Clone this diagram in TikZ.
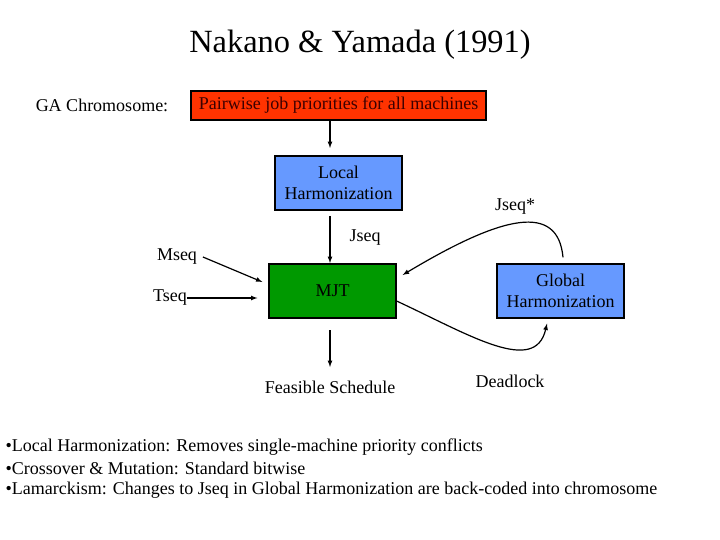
\documentclass[tikz,border=0pt]{standalone}
\usepackage{fontspec}
\setmainfont{Liberation Serif}
\usetikzlibrary{arrows}

\begin{document}
\begin{tikzpicture}[x=1pt,y=-1pt,>=latex,line width=1.2pt]

        \useasboundingbox (0,0) rectangle (720,540);

        \node (title) at (360,45) {\fontsize{32.4}{36}\selectfont Nakano \& Yamada (1991)};
        \node (ga)    at (102,105) {\fontsize{18}{21}\selectfont GA Chromosome:};

        \begin{scope}[every node/.style={draw, inner sep=0pt, align=center,
            font=\fontsize{18}{21}\selectfont}]
          \node[fill={rgb,255:red,255;green,51;blue,0}, text={rgb,255:red,60;green,0;blue,0}, minimum width=295, minimum height=29] (chrom) at (338.5,105.5) {Pairwise job priorities for all machines};
          \node[fill={rgb,255:red,102;green,153;blue,255}, minimum width=127, minimum height=54] (lh) at (338.5,183) {Local\\Harmonization};
          \node[fill={rgb,255:red,0;green,153;blue,0}, minimum width=127, minimum height=54] (mjt) at (332.5,291) {MJT};
          \node[fill={rgb,255:red,102;green,153;blue,255}, minimum width=127, minimum height=54] (gh) at (560.5,291) {Global\\Harmonization};
        \end{scope}

        \begin{scope}[every node/.style={font=\fontsize{18}{21}\selectfont}]
          \node (jseq)     at (365,238) {Jseq};
          \node (jseqstar) at (515,207) {Jseq*};
          \node (mseq)     at (177,257) {Mseq};
          \node (tseq)     at (170,298) {Tseq};
          \node (feas)     at (330,387) {Feasible Schedule};
          \node (dead)     at (510,381) {Deadlock};
        \end{scope}

        \begin{scope}[->]
          \draw (330,120) -- (330,148);
          \draw (330,216) -- (330,263);
          \draw ([xshift=2pt]mseq.east) -- ([xshift=-6pt,yshift=9pt]mjt.west);
          \draw ([xshift=-4pt]tseq.east) -- ([xshift=-11pt,yshift=-7pt]mjt.west);
          \draw (330,330) -- (330,367);
          \draw ([xshift=2.5pt,yshift=6pt]gh.north) .. controls +(-5,-55) and +(100,-60) .. ([xshift=6pt,yshift=16pt]mjt.east);
          \draw ([yshift=-10pt]mjt.east) .. controls +(73,34) and +(-12,52) .. ([xshift=-13.5pt,yshift=-5pt]gh.south);
        \end{scope}

        \begin{scope}[every node/.style={anchor=west, inner sep=0pt, font=\fontsize{18}{21}\selectfont}]
          \node (b1) at (5,447) {\textbullet Local Harmonization: Removes single-machine priority conflicts};
          \node (b2) at (5,468) {\textbullet Crossover \& Mutation: Standard bitwise};
          \node (b3) at (5,490) {\textbullet Lamarckism: Changes to Jseq in Global Harmonization are back-coded into chromosome};
        \end{scope}

      \end{tikzpicture}
\end{document}
